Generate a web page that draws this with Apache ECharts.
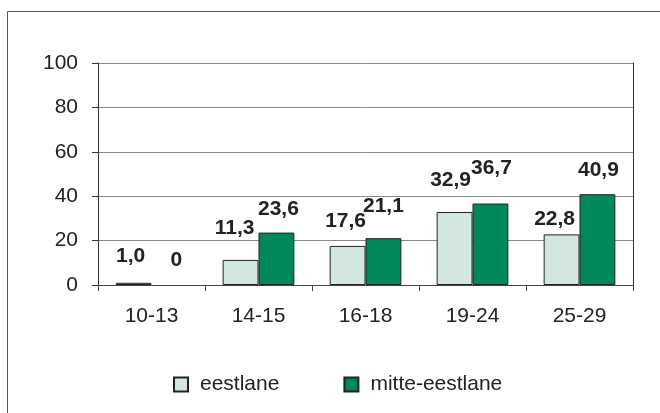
<!DOCTYPE html>
<html>
<head>
<meta charset="utf-8">
<script src="https://cdn.jsdelivr.net/npm/echarts@6/dist/echarts.min.js"></script>
<style>
  html, body { margin: 0; padding: 0; background: #fff; }
  #chart { width: 660px; height: 413px; }
</style>
</head>
<body>
<div id="chart"></div>
<script>
var chart = echarts.init(document.getElementById('chart'));

const ageGroups = ['10-13', '14-15', '16-18', '19-24', '25-29'];
const eestlane = [1.0, 11.3, 17.6, 32.9, 22.8];
const mitteEestlane = [0, 23.6, 21.1, 36.7, 40.9];
const yTicks = [0, 20, 40, 60, 80, 100];

// label nudges, Excel labels were moved by hand
const offEst = [[-3, -16], [-6, -21], [-2, -14], [-4, -21], [-7, -5]];
const offMitte = [[7, -14], [2, -13], [0, -21], [1, -25], [1, -13]];

const FONT = 'Arial, "Liberation Sans", sans-serif';

const fmt = (p) => p.value === 0 ? '0' : p.value.toFixed(1).replace('.', ',');

const withLabels = (vals, offs) => vals.map((v, i) => ({
  value: v,
  label: { offset: offs[i] },
  itemStyle: v === 0 ? { borderWidth: 0 } : {}
}));

const labelStyle = {
  show: true,
  position: 'top',
  distance: 0,
  formatter: fmt,
  fontFamily: FONT,
  fontSize: 21,
  fontWeight: 'bold',
  color: '#222'
};

var option = {
  animation: false,
  textStyle: { fontFamily: FONT },
  graphic: [
    {
      type: 'rect',
      shape: { x: 7.5, y: 11.5, width: 700, height: 500 },
      style: { fill: 'none', stroke: '#555', lineWidth: 1 },
      silent: true
    }
  ],
  grid: { left: 98, right: 27, top: 63, bottom: 128 },
  legend: {
    left: 173,
    top: 374,
    padding: 0,
    icon: 'rect',
    itemWidth: 14,
    itemHeight: 14,
    itemGap: 64,
    textStyle: { fontFamily: FONT, fontSize: 21, color: '#222', padding: [0, 0, 0, 7] },
    data: ['eestlane', 'mitte-eestlane']
  },
  xAxis: {
    type: 'category',
    data: ageGroups,
    axisLine: { lineStyle: { color: '#444' } },
    axisTick: { show: true, length: 6, lineStyle: { color: '#444' } },
    axisLabel: { fontFamily: FONT, fontSize: 21, color: '#222', margin: 21 }
  },
  yAxis: [
    {
      type: 'value',
      min: 0,
      max: 100,
      interval: 20,
      axisLine: { show: true, lineStyle: { color: '#333' } },
      axisTick: { show: true, length: 6, lineStyle: { color: '#333' } },
      axisLabel: {
        fontFamily: FONT, fontSize: 21, color: '#222', margin: 20,
        formatter: (v) => yTicks.indexOf(v) >= 0 ? String(v) : ''
      },
      splitLine: { lineStyle: { color: '#888', width: 1 } }
    },
    {
      type: 'value',
      position: 'right',
      min: 0,
      max: 100,
      interval: 20,
      axisLine: { show: true, lineStyle: { color: '#333' } },
      axisTick: { show: false },
      axisLabel: { show: false },
      splitLine: { show: false }
    }
  ],
  series: [
    {
      name: 'eestlane',
      type: 'bar',
      data: withLabels(eestlane, offEst),
      barGap: '0%',
      barCategoryGap: '33%',
      itemStyle: { color: '#d2e7de', borderColor: '#222', borderWidth: 1 },
      label: labelStyle
    },
    {
      name: 'mitte-eestlane',
      type: 'bar',
      data: withLabels(mitteEestlane, offMitte),
      barGap: '0%',
      barCategoryGap: '33%',
      itemStyle: { color: '#00885a', borderColor: '#222', borderWidth: 1 },
      label: labelStyle
    }
  ]
};

chart.setOption(option);
</script>
</body>
</html>
